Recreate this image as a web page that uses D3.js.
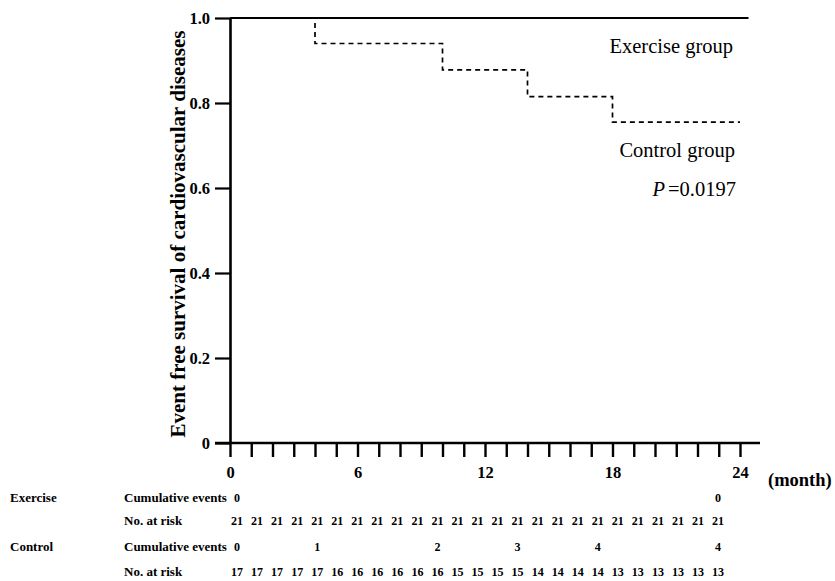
<!DOCTYPE html>
<html>
<head>
<meta charset="utf-8">
<script src="https://cdn.jsdelivr.net/npm/d3@7"></script>
<style>
  body { margin: 0; background: #fff; }
  svg { display: block; font-family: "Liberation Serif", "Times New Roman", serif; }
</style>
</head>
<body>
<svg id="chart" width="835" height="581"></svg>
<script>
// survival curves
const exerciseTimes = [0, 24.4];
const exerciseSurv = [1.0, 1.0];
const controlTimes = [0, 4, 10, 14, 18, 24];
const controlSurv = [1.0, 0.94, 0.878, 0.815, 0.755, 0.755];

const yTicks = [0, 0.2, 0.4, 0.6, 0.8, 1.0];
const yTickLabels = ['0', '0.2', '0.4', '0.6', '0.8', '1.0'];
const xLabelTicks = [0, 6, 12, 18, 24];
const months = d3.range(0, 25);

// number-at-risk table
const exerciseEventMonths = [0, 24];
const exerciseEvents = [0, 0];
const exerciseAtRisk = [21, 21, 21, 21, 21, 21, 21, 21, 21, 21, 21, 21, 21, 21, 21, 21, 21, 21, 21, 21, 21, 21, 21, 21, 21];
const controlEventMonths = [0, 4, 10, 14, 18, 24];
const controlEvents = [0, 1, 2, 3, 4, 4];
const controlAtRisk = [17, 17, 17, 17, 17, 16, 16, 16, 16, 16, 16, 15, 15, 15, 15, 14, 14, 14, 14, 13, 13, 13, 13, 13, 13];

const svg = d3.select('#chart');

const x = d3.scaleLinear().domain([0, 24]).range([230, 740]);
const y = d3.scaleLinear().domain([0, 1]).range([443, 18]);
// table columns sit a little right of the ticks and a bit tighter
const xt = d3.scaleLinear().domain([0, 24]).range([237, 718]);

// y axis
const yAxis = d3.axisLeft(y)
  .tickValues(yTicks)
  .tickFormat((d, i) => yTickLabels[i])
  .tickSize(15)
  .tickSizeOuter(0)
  .tickPadding(5);
const gy = svg.append('g').attr('transform', `translate(${x(0)},0)`).call(yAxis);
gy.select('.domain').attr('stroke-width', 2.6);
gy.selectAll('.tick line').attr('stroke-width', 2.2);
gy.selectAll('.tick text')
  .attr('font-size', 16.5).attr('font-weight', 'bold')
  .attr('font-family', '"Liberation Serif", serif');

// x axis
const xAxis = d3.axisBottom(x)
  .tickValues(months)
  .tickFormat(d => xLabelTicks.includes(d) ? d : '')
  .tickSize(14)
  .tickSizeOuter(0)
  .tickPadding(9);
const gx = svg.append('g').attr('transform', `translate(0,${y(0)})`).call(xAxis);
gx.select('.domain').attr('d', `M${x(0) - 15},0H${x(24) + 20}`).attr('stroke-width', 2.4);
gx.selectAll('.tick line').attr('stroke-width', 2.4);
gx.selectAll('.tick text')
  .attr('font-size', 16.5).attr('font-weight', 'bold')
  .attr('font-family', '"Liberation Serif", serif');

svg.append('text')
  .attr('x', 768).attr('y', 486)
  .attr('font-size', 18.5).attr('font-weight', 'bold')
  .text('(month)');

// y title
svg.append('text')
  .attr('transform', `translate(185,234) rotate(-90)`)
  .attr('text-anchor', 'middle')
  .attr('font-size', 21).attr('font-weight', 'bold')
  .text('Event free survival of cardiovascular diseases');

// curves
const line = d3.line().curve(d3.curveStepAfter)
  .x(d => x(d[0])).y(d => y(d[1]));

svg.append('path')
  .datum(controlTimes.map((t, i) => [t, controlSurv[i]]))
  .attr('d', line)
  .attr('fill', 'none').attr('stroke', '#000')
  .attr('stroke-width', 1.7).attr('stroke-dasharray', '5,4');

svg.append('path')
  .datum(exerciseTimes.map((t, i) => [t, exerciseSurv[i]]))
  .attr('d', line)
  .attr('fill', 'none').attr('stroke', '#000')
  .attr('stroke-width', 2);

// annotations
svg.append('text').attr('x', 733).attr('y', 53).attr('text-anchor', 'end')
  .attr('font-size', 20.5).text('Exercise group');
svg.append('text').attr('x', 735).attr('y', 157).attr('text-anchor', 'end')
  .attr('font-size', 20.5).text('Control group');
const pt = svg.append('text').attr('x', 736).attr('y', 196).attr('text-anchor', 'end')
  .attr('font-size', 20.5);
pt.append('tspan').attr('font-style', 'italic').text('P');
pt.append('tspan').attr('dx', 3).text('=0.0197');

// risk table
const rows = [
  { y: 502, group: 'Exercise', label: 'Cumulative events', months: exerciseEventMonths, vals: exerciseEvents },
  { y: 525, group: '', label: 'No. at risk', months: months, vals: exerciseAtRisk },
  { y: 551, group: 'Control', label: 'Cumulative events', months: controlEventMonths, vals: controlEvents },
  { y: 576, group: '', label: 'No. at risk', months: months, vals: controlAtRisk }
];

const table = svg.append('g')
  .attr('font-size', 13).attr('font-weight', 'bold');

rows.forEach(r => {
  if (r.group) table.append('text').attr('x', 10).attr('y', r.y).text(r.group);
  table.append('text').attr('x', 124).attr('y', r.y).text(r.label);
  table.selectAll(null)
    .data(r.vals.map((v, i) => [r.months[i], v]))
    .join('text')
    .attr('x', d => xt(d[0]))
    .attr('y', r.y)
    .attr('text-anchor', 'middle')
    .attr('font-size', 12)
    .text(d => d[1]);
});
</script>
</body>
</html>
